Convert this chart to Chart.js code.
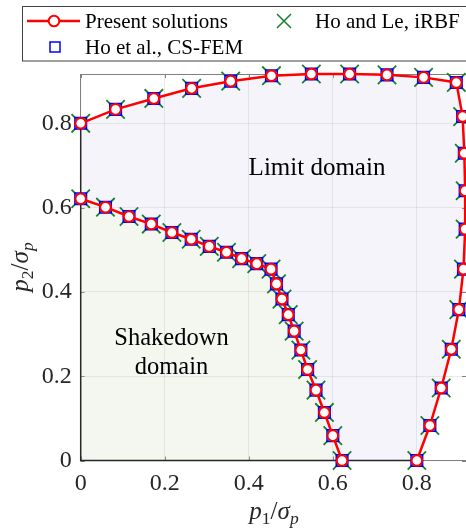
<!DOCTYPE html>
<html><head><meta charset="utf-8">
<script src="https://cdn.jsdelivr.net/npm/chart.js@4.4.1/dist/chart.umd.min.js"></script>
<style>
html,body{margin:0;padding:0;background:#fff;overflow:hidden}
canvas{display:block}
</style></head><body><canvas id="c" width="466" height="531"></canvas>
<script>
// ---- data ----
const limitX = [0, 0.083, 0.174, 0.264, 0.357, 0.454, 0.549, 0.640, 0.729, 0.816, 0.894, 0.909, 0.913, 0.915, 0.915, 0.911, 0.900, 0.882, 0.858, 0.831, 0.800];
const limitY = [0.800, 0.833, 0.859, 0.883, 0.900, 0.913, 0.917, 0.917, 0.915, 0.909, 0.897, 0.816, 0.729, 0.640, 0.549, 0.454, 0.358, 0.264, 0.172, 0.083, 0];
const shakeX = [0, 0.059, 0.115, 0.168, 0.217, 0.263, 0.306, 0.347, 0.383, 0.419, 0.453, 0.466, 0.479, 0.494, 0.508, 0.524, 0.540, 0.560, 0.580, 0.600, 0.622];
const shakeY = [0.621, 0.601, 0.579, 0.561, 0.541, 0.525, 0.508, 0.494, 0.479, 0.467, 0.454, 0.419, 0.383, 0.346, 0.307, 0.262, 0.216, 0.167, 0.114, 0.059, 0];
const tickValues = [0, 0.2, 0.4, 0.6, 0.8];
const tickLabels = ['0', '0.2', '0.4', '0.6', '0.8'];
const axisMax = 0.917;
const legendLabels = ['Present solutions', 'Ho and Le, iRBF', 'Ho et al., CS-FEM'];
const limitLabel = 'Limit domain';
const shakeLabel = ['Shakedown', 'domain'];
const xTitle = [{t:'p', it:1}, {t:'1', sub:1}, {t:'/'}, {t:'σ', it:1}, {t:'p', it:1, sub:1}];
const yTitle = [{t:'p', it:1}, {t:'2', sub:1}, {t:'/'}, {t:'σ', it:1}, {t:'p', it:1, sub:1}];

const pts = (xs, ys) => xs.map((x, i) => ({x, y: ys[i]}));
const limitPts = pts(limitX, limitY);
const shakePts = pts(shakeX, shakeY);
const limitRing = [{x: 0, y: shakeY[0]}, ...limitPts, ...shakePts.slice().reverse()];
const shakePoly = [{x: 0, y: 0}, ...shakePts];
const axisEdge = [{x: 0, y: limitY[0]}, {x: 0, y: 0}, {x: limitX[limitX.length - 1], y: 0}];

const RED = '#ff0000', BLUE = '#0000ff', GREEN = '#1b7f2f';
const SERIF = '"Liberation Serif", "Times New Roman", serif';

const present = d => ({data: d, showLine: true, borderColor: RED, borderWidth: 2.5,
  pointStyle: 'circle', pointRadius: 5.3, pointBorderWidth: 2, pointBackgroundColor: '#fff',
  pointBorderColor: RED, clip: false, order: 0});
const csfem = d => ({data: d, showLine: false, pointStyle: 'rect', pointRadius: 8.2,
  pointBorderWidth: 1.5, pointBorderColor: BLUE, pointBackgroundColor: 'rgba(0,0,0,0)', clip: false, order: 1});
const irbf = d => ({data: d, showLine: false, pointStyle: 'crossRot', pointRadius: 13,
  pointBorderWidth: 1.8, pointBorderColor: GREEN, clip: false, order: 2});

function drawMath(ctx, parts, x, y, size) {
  const subSize = size * 0.7;
  const fontOf = p => (p.it ? 'italic ' : '') + (p.sub ? subSize : size) + 'px ' + SERIF;
  let w = 0;
  for (const p of parts) { ctx.font = fontOf(p); w += ctx.measureText(p.t).width; }
  let cx = x - w / 2;
  ctx.textAlign = 'left'; ctx.textBaseline = 'alphabetic';
  for (const p of parts) {
    ctx.font = fontOf(p);
    ctx.fillText(p.t, cx, y + (p.sub ? size * 0.2 : 0));
    cx += ctx.measureText(p.t).width;
  }
}

const boxPlugin = {
  id: 'box',
  beforeDatasetsDraw(chart) {
    const {ctx, chartArea: a, scales: {x, y}} = chart;
    ctx.save();
    ctx.strokeStyle = '#808080'; ctx.lineWidth = 1;
    ctx.beginPath();
    ctx.moveTo(a.left, Math.round(a.top) + 0.5); ctx.lineTo(a.right, Math.round(a.top) + 0.5);
    ctx.moveTo(Math.round(a.right) + 0.5, a.top); ctx.lineTo(Math.round(a.right) + 0.5, a.bottom);
    for (const v of tickValues) {
      const px = Math.round(x.getPixelForValue(v)) + 0.5;
      ctx.moveTo(px, a.bottom); ctx.lineTo(px, a.bottom - 4);
      ctx.moveTo(px, a.top); ctx.lineTo(px, a.top + 4);
      const py = Math.round(y.getPixelForValue(v)) + 0.5;
      ctx.moveTo(a.left, py); ctx.lineTo(a.left + 4, py);
      ctx.moveTo(a.right, py); ctx.lineTo(a.right - 4, py);
    }
    ctx.stroke();
    ctx.restore();
  },
  afterDatasetsDraw(chart) {
    const {ctx} = chart;
    ctx.save();
    ctx.fillStyle = '#000';
    ctx.font = '25px ' + SERIF;
    ctx.textAlign = 'center'; ctx.textBaseline = 'alphabetic';
    ctx.fillText(limitLabel, 317, 175);
    ctx.font = '24.5px ' + SERIF;
    ctx.fillText(shakeLabel[0], 171.5, 345);
    ctx.fillText(shakeLabel[1], 171.5, 374);
    ctx.fillStyle = '#262626';
    drawMath(ctx, xTitle, 274, 519, 25);
    ctx.translate(28, 267);
    ctx.rotate(-Math.PI / 2);
    drawMath(ctx, yTitle, 0, 0, 25);
    ctx.restore();
  },
  afterDraw(chart) {
    const {ctx} = chart;
    ctx.save();
    ctx.fillStyle = '#fff'; ctx.strokeStyle = '#404040'; ctx.lineWidth = 1;
    ctx.fillRect(22.5, 6.5, 500, 54.5);
    ctx.strokeRect(22.5, 6.5, 500, 54.5);
    // present solutions
    ctx.strokeStyle = RED; ctx.lineWidth = 2.5;
    ctx.beginPath(); ctx.moveTo(27, 21); ctx.lineTo(80, 21); ctx.stroke();
    ctx.lineWidth = 2; ctx.fillStyle = '#fff';
    ctx.beginPath(); ctx.arc(54, 21, 5.3, 0, Math.PI * 2); ctx.fill(); ctx.stroke();
    // iRBF cross
    ctx.strokeStyle = GREEN; ctx.lineWidth = 1.5;
    ctx.beginPath();
    ctx.moveTo(277, 14); ctx.lineTo(291, 28); ctx.moveTo(291, 14); ctx.lineTo(277, 28);
    ctx.stroke();
    // CS-FEM square
    ctx.strokeStyle = BLUE; ctx.lineWidth = 1.5;
    ctx.strokeRect(50, 42, 10, 10);
    ctx.fillStyle = '#000';
    ctx.font = '21px ' + SERIF;
    ctx.textAlign = 'left'; ctx.textBaseline = 'alphabetic';
    ctx.fillText(legendLabels[0], 85, 28);
    ctx.fillText(legendLabels[1], 315, 28);
    ctx.fillText(legendLabels[2], 85, 54);
    ctx.restore();
  }
};

const tickFont = {family: SERIF, size: 24};
new Chart(document.getElementById('c'), {
  type: 'scatter',
  data: {datasets: [
    present(limitPts), present(shakePts),
    csfem(limitPts), csfem(shakePts),
    irbf(limitPts), irbf(shakePts),
    {data: axisEdge, showLine: true, borderColor: '#262626', borderWidth: 1.5, pointRadius: 0, clip: false, order: 3},
    {data: shakePoly, showLine: true, borderWidth: 0, borderColor: 'rgba(0,0,0,0)', fill: 'shape',
      backgroundColor: 'rgba(200,210,180,0.2)', pointRadius: 0, order: 4},
    {data: limitRing, showLine: true, borderWidth: 0, borderColor: 'rgba(0,0,0,0)', fill: 'shape',
      backgroundColor: 'rgba(200,200,230,0.2)', pointRadius: 0, order: 5}
  ]},
  options: {
    responsive: false, animation: false, devicePixelRatio: 1, events: [],
    layout: {autoPadding: false, padding: {top: 74, right: -1.2, left: 0, bottom: 0}},
    plugins: {legend: {display: false}, tooltip: {enabled: false}},
    scales: {
      x: {type: 'linear', min: 0, max: axisMax,
        afterBuildTicks: s => { s.ticks = tickValues.map(v => ({value: v})); },
        afterFit: s => { s.height = 70.5; },
        ticks: {callback: (v, i) => tickLabels[i], font: tickFont, color: '#262626', padding: 9, maxRotation: 0, autoSkip: false},
        grid: {color: 'rgba(38,38,38,0.1)', drawTicks: false},
        border: {display: true, color: '#808080', width: 1}},
      y: {type: 'linear', min: 0, max: axisMax,
        afterBuildTicks: s => { s.ticks = tickValues.map(v => ({value: v})); },
        afterFit: s => { s.width = 80.7; },
        ticks: {callback: (v, i) => tickLabels[i], font: tickFont, color: '#262626', padding: 9, autoSkip: false},
        grid: {color: 'rgba(38,38,38,0.1)', drawTicks: false},
        border: {display: true, color: '#808080', width: 1}}
    }
  },
  plugins: [boxPlugin]
});
</script></body></html>
